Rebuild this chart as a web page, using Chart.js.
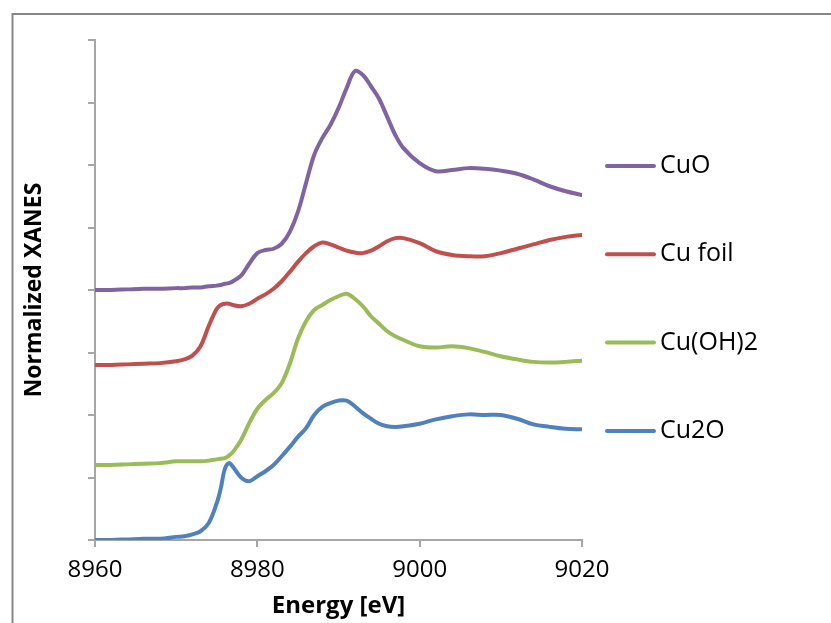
<!DOCTYPE html>
<html>
<head>
<meta charset="utf-8">
<script src="https://cdn.jsdelivr.net/npm/chart.js@4.4.1/dist/chart.umd.min.js"></script>
<style>
  body { margin: 0; background: #fff; }
  #wrap { width: 831px; height: 623px; }
</style>
</head>
<body>
<div id="wrap"><canvas id="xanes" width="831" height="623"></canvas></div>
<script>
// energies (eV), shared by all spectra
const energy = [
    8960, 8962, 8964, 8966, 8968, 8970, 8971, 8972, 8973, 8974, 8975, 8975.5,
    8976, 8976.5, 8977, 8978, 8979, 8980, 8981, 8982, 8983, 8984, 8985, 8986,
    8987, 8988, 8989, 8990, 8991, 8992, 8993, 8994, 8995, 8996, 8997, 8998,
    9000, 9002, 9004, 9006, 9008, 9010, 9012, 9014, 9016, 9018, 9020,
];

// normalized + offset spectra
const cuO = [
    4.0, 4.0, 4.01, 4.02, 4.02, 4.03, 4.03, 4.04, 4.04, 4.06, 4.07, 4.08,
    4.1, 4.11, 4.14, 4.23, 4.42, 4.59, 4.64, 4.66, 4.74, 4.93, 5.25, 5.71,
    6.16, 6.43, 6.64, 6.91, 7.23, 7.5, 7.44, 7.26, 7.06, 6.77, 6.48, 6.27,
    6.03, 5.9, 5.92, 5.95, 5.94, 5.91, 5.86, 5.77, 5.66, 5.58, 5.52,
];
const cuFoil = [
    2.8, 2.8, 2.81, 2.82, 2.83, 2.86, 2.89, 2.95, 3.1, 3.42, 3.7, 3.76,
    3.78, 3.78, 3.76, 3.74, 3.78, 3.86, 3.93, 4.02, 4.14, 4.29, 4.45, 4.59,
    4.7, 4.76, 4.73, 4.68, 4.63, 4.6, 4.59, 4.63, 4.7, 4.78, 4.83, 4.83,
    4.75, 4.62, 4.56, 4.54, 4.54, 4.59, 4.66, 4.73, 4.8, 4.85, 4.88,
];
const cuOH2 = [
    1.2, 1.2, 1.21, 1.22, 1.23, 1.26, 1.26, 1.26, 1.26, 1.27, 1.29, 1.3,
    1.31, 1.35, 1.41, 1.6, 1.87, 2.1, 2.24, 2.35, 2.51, 2.82, 3.22, 3.5,
    3.68, 3.76, 3.84, 3.9, 3.94, 3.86, 3.74, 3.58, 3.46, 3.34, 3.26, 3.2,
    3.1, 3.08, 3.1, 3.07, 3.01, 2.94, 2.89, 2.85, 2.84, 2.85, 2.87,
];
const cu2O = [
    0.0, 0.0, 0.01, 0.02, 0.02, 0.05, 0.06, 0.09, 0.14, 0.27, 0.59, 0.83,
    1.14, 1.23, 1.17, 1.0, 0.94, 1.02, 1.1, 1.2, 1.34, 1.49, 1.65, 1.79,
    2.0, 2.13, 2.19, 2.23, 2.23, 2.14, 2.03, 1.94, 1.86, 1.82, 1.81, 1.82,
    1.86, 1.93, 1.98, 2.01, 2.0, 2.0, 1.94, 1.85, 1.81, 1.78, 1.77,
];

const seriesNames = ["CuO", "Cu foil", "Cu(OH)2", "Cu2O"];
const seriesColors = ["#8064a2", "#c0504d", "#9bbb59", "#4f81bd"];
const xTicks = [8960, 8980, 9000, 9020];

const font = "'Open Sans', 'Liberation Sans', sans-serif";
const axisGrey = "#a6a6a6";

function toPoints(ys) {
    return energy.map((e, i) => ({ x: e, y: ys[i] }));
}

// excel-style legend to the right of the plot + outer chart border
const sideLegend = {
    id: "sideLegend",
    afterDraw(chart) {
        const ctx = chart.ctx;
        const x0 = chart.chartArea.right + 23;
        ctx.save();
        chart.data.datasets.forEach((ds, i) => {
            const y = 166 + i * 88.3;
            ctx.strokeStyle = ds.borderColor;
            ctx.lineWidth = 4;
            ctx.lineCap = "round";
            ctx.beginPath();
            ctx.moveTo(x0 + 2, y);
            ctx.lineTo(x0 + 49, y);
            ctx.stroke();
            ctx.fillStyle = "#000";
            ctx.font = "25px " + font;
            ctx.textBaseline = "middle";
            ctx.fillText(ds.label, x0 + 55, y);
        });
        ctx.strokeStyle = "#878787";
        ctx.lineWidth = 2;
        ctx.lineCap = "butt";
        ctx.strokeRect(12.5, 14, 1000, 1000);
        ctx.restore();
    },
};

new Chart(document.getElementById("xanes"), {
    type: "line",
    data: {
        datasets: [cuO, cuFoil, cuOH2, cu2O].map((ys, i) => ({
            label: seriesNames[i],
            data: toPoints(ys),
            borderColor: seriesColors[i],
            backgroundColor: seriesColors[i],
            borderWidth: 4,
            borderJoinStyle: "round",
            borderCapStyle: "round",
            pointRadius: 0,
            fill: false,
            tension: 0.35,
        })),
    },
    options: {
        responsive: false,
        animation: false,
        layout: {
            padding: { top: 40, right: 249, bottom: 0, left: 0 },
        },
        scales: {
            x: {
                type: "linear",
                min: 8960,
                max: 9020,
                afterBuildTicks: (scale) => {
                    scale.ticks = xTicks.map((v) => ({ value: v }));
                },
                afterFit: (scale) => {
                    scale.height = 83;
                },
                ticks: {
                    color: "#000",
                    font: { family: font, size: 24 },
                    padding: 9,
                    maxRotation: 0,
                    callback: (v) => String(v),
                },
                grid: {
                    drawOnChartArea: false,
                    tickLength: 7,
                    color: axisGrey,
                    lineWidth: 2,
                },
                border: { color: axisGrey, width: 2 },
                title: {
                    display: true,
                    text: "Energy [eV]",
                    color: "#000",
                    font: { family: font, size: 24, weight: "bold" },
                    padding: { top: 0, bottom: 2 },
                },
            },
            y: {
                min: 0,
                max: 8,
                afterFit: (scale) => {
                    scale.width = 95;
                },
                ticks: { display: false, stepSize: 1 },
                grid: {
                    drawOnChartArea: false,
                    tickLength: 7,
                    color: axisGrey,
                    lineWidth: 2,
                },
                border: { color: axisGrey, width: 2 },
                title: {
                    display: true,
                    text: "Normalized XANES",
                    color: "#000",
                    font: { family: font, size: 23, weight: "bold" },
                    padding: { top: 21, bottom: 0 },
                },
            },
        },
        plugins: {
            legend: { display: false },
            tooltip: { enabled: false },
        },
    },
    plugins: [sideLegend],
});
</script>
</body>
</html>
